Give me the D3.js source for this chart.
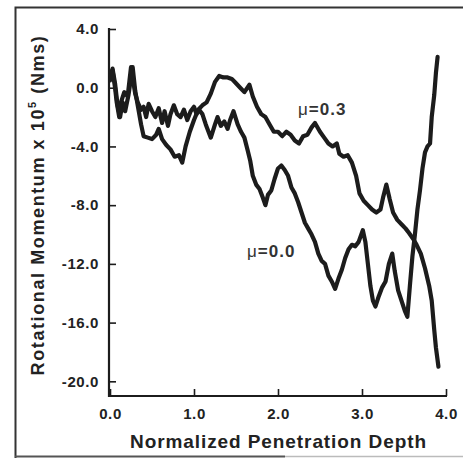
<!DOCTYPE html>
<html>
<head>
<meta charset="utf-8">
<script src="https://cdn.jsdelivr.net/npm/d3@7"></script>
<style>
  body { margin: 0; background: #fff; }
  svg { display: block; font-family: "Liberation Sans", Arial, sans-serif; }
  .tick text { font-size: 15px; font-weight: bold; fill: #222; letter-spacing: 0.6px; }
</style>
</head>
<body>
<svg id="vis" width="463" height="458"></svg>
<script>
// tick values
const xTicks = [0, 1, 2, 3, 4];
const yTicks = [4, 0, -4, -8, -12, -16, -20];

// mu = 0.3 series (depth, momentum)
const depth03 = [0.00, 0.03, 0.06, 0.09, 0.12, 0.15, 0.18, 0.22, 0.27, 0.30, 0.33, 0.37, 0.40, 0.45, 0.50, 0.55, 0.58, 0.62, 0.67, 0.72, 0.77, 0.82, 0.86, 0.90, 0.95, 1.00, 1.05, 1.10, 1.15, 1.20, 1.25, 1.30, 1.35, 1.40, 1.45, 1.50, 1.55, 1.60, 1.66, 1.70, 1.75, 1.80, 1.85, 1.90, 1.95, 2.00, 2.05, 2.10, 2.15, 2.20, 2.25, 2.30, 2.35, 2.40, 2.44, 2.50, 2.55, 2.60, 2.65, 2.70, 2.73, 2.78, 2.83, 2.88, 2.93, 2.97, 3.02, 3.07, 3.12, 3.17, 3.22, 3.25, 3.29, 3.33, 3.37, 3.42, 3.47, 3.52, 3.56, 3.61, 3.65, 3.70, 3.75, 3.80, 3.83, 3.86, 3.88, 3.91];
const moment03 = [0.6, 1.3, 0.3, -1.2, -2.0, -1.0, -1.6, -0.5, 1.4, -0.2, -1.2, -2.5, -3.3, -3.4, -3.5, -3.2, -2.8, -3.5, -3.9, -4.2, -4.7, -4.6, -5.1, -4.0, -3.0, -2.2, -1.5, -1.2, -1.0, -0.4, 0.4, 0.8, 0.7, 0.7, 0.6, 0.3, 0.0, -0.3, 0.2, -0.6, -1.3, -1.8, -2.0, -2.5, -3.0, -3.0, -3.3, -3.0, -3.2, -3.6, -3.8, -3.3, -3.2, -2.7, -2.4, -3.0, -3.4, -3.8, -4.0, -3.8, -4.5, -4.7, -4.6, -5.1, -6.0, -7.2, -7.7, -8.0, -8.3, -8.5, -8.3, -7.5, -6.6, -7.6, -8.5, -9.0, -9.3, -9.6, -9.9, -10.3, -10.7, -11.3, -12.3, -13.5, -14.5, -16.5, -17.7, -19.0];

// mu = 0.0 series (depth, momentum)
const depth00 = [0.00, 0.03, 0.06, 0.08, 0.11, 0.13, 0.17, 0.21, 0.25, 0.30, 0.33, 0.37, 0.40, 0.43, 0.46, 0.50, 0.54, 0.58, 0.62, 0.65, 0.69, 0.72, 0.76, 0.80, 0.84, 0.88, 0.92, 0.96, 1.00, 1.03, 1.06, 1.10, 1.14, 1.20, 1.25, 1.28, 1.32, 1.36, 1.40, 1.43, 1.47, 1.52, 1.56, 1.60, 1.64, 1.67, 1.70, 1.74, 1.78, 1.82, 1.85, 1.88, 1.92, 1.96, 2.00, 2.04, 2.08, 2.12, 2.16, 2.20, 2.24, 2.28, 2.32, 2.36, 2.40, 2.44, 2.48, 2.52, 2.56, 2.60, 2.64, 2.68, 2.72, 2.76, 2.80, 2.84, 2.88, 2.92, 2.96, 3.01, 3.04, 3.07, 3.10, 3.13, 3.16, 3.20, 3.24, 3.28, 3.32, 3.36, 3.39, 3.43, 3.47, 3.51, 3.54, 3.57, 3.60, 3.63, 3.66, 3.69, 3.72, 3.75, 3.78, 3.81, 3.83, 3.86, 3.88, 3.90];
const moment00 = [0.5, 1.2, 0.0, -1.0, -2.0, -1.0, -0.3, -0.6, 1.4, -0.4, -1.0, -1.5, -1.3, -2.0, -1.1, -1.6, -2.0, -1.4, -2.4, -1.6, -2.6, -1.8, -1.2, -1.8, -2.0, -1.5, -2.2, -1.6, -1.3, -1.8, -1.5, -1.8, -2.5, -3.4, -2.5, -2.0, -2.6, -2.3, -2.8, -2.2, -1.6, -2.5, -3.0, -3.4, -4.3, -5.0, -6.0, -6.6, -6.9, -7.5, -8.0, -7.3, -7.0, -6.2, -5.5, -5.3, -5.6, -6.0, -6.8, -7.2, -7.8, -8.5, -9.2, -9.6, -10.0, -10.5, -11.3, -11.8, -12.0, -12.8, -13.2, -13.7, -13.0, -12.4, -11.6, -11.0, -10.7, -10.8, -10.5, -9.7, -10.5, -12.0, -13.5, -14.5, -14.9, -14.2, -13.6, -13.2, -12.0, -11.3, -12.5, -13.8, -14.5, -15.2, -15.6, -13.5, -11.5, -10.0, -8.3, -7.0, -5.5, -4.4, -4.0, -3.8, -2.0, -0.5, 1.0, 2.1];

const svg = d3.select('#vis');
const ink = '#1c1c1c';

const x = d3.scaleLinear().domain([0, 4]).range([110, 446]);
const y = d3.scaleLinear().domain([-21, 4]).range([396, 29]);

// scanned frame
svg.append('path')
  .attr('d', 'M15.5,458 V7.5 H463')
  .attr('fill', 'none').attr('stroke', '#333').attr('stroke-width', 2);
svg.append('line')
  .attr('x1', 15).attr('x2', 285).attr('y1', 456.5).attr('y2', 456.5)
  .attr('stroke', '#555').attr('stroke-width', 2);
svg.append('line')
  .attr('x1', 285).attr('x2', 463).attr('y1', 456.5).attr('y2', 456.5)
  .attr('stroke', '#bbb').attr('stroke-width', 1.5);

// axes
const fmt = d => d.toFixed(1);

const yAxis = svg.append('g')
  .attr('transform', 'translate(109,0)')
  .call(d3.axisLeft(y).tickValues(yTicks).tickFormat(fmt).tickSize(-7).tickPadding(10));
const xAxis = svg.append('g')
  .attr('transform', 'translate(0,396)')
  .call(d3.axisBottom(x).tickValues(xTicks).tickFormat(fmt).tickSize(-7).tickPadding(12));

[yAxis, xAxis].forEach(g => {
  g.select('.domain').remove();
  g.selectAll('.tick line').attr('stroke', ink).attr('stroke-width', 1.6);
});

svg.append('path')
  .attr('d', 'M109,28 V396 H447')
  .attr('fill', 'none').attr('stroke', ink).attr('stroke-width', 2.2);

// curves
const line = d3.line()
  .x(d => x(d[0]))
  .y(d => y(d[1]));

const series = [
  d3.zip(depth03, moment03),
  d3.zip(depth00, moment00)
];

svg.selectAll('path.curve')
  .data(series)
  .enter()
  .append('path')
    .classed('curve', true)
    .attr('d', line)
    .attr('fill', 'none')
    .attr('stroke', ink)
    .attr('stroke-width', 4.2)
    .attr('stroke-linejoin', 'round')
    .attr('stroke-linecap', 'round');

// series labels
const labels = [
  { text: '0.3', x: 298, y: 115 },
  { text: '0.0', x: 247, y: 257 }
];
labels.forEach(l => {
  const t = svg.append('text')
    .attr('x', l.x).attr('y', l.y)
    .attr('font-size', 17).attr('fill', '#333')
    .attr('letter-spacing', 1);
  t.append('tspan').attr('font-weight', 'normal').text('\u03bc');
  t.append('tspan').attr('font-weight', 'bold').text('=' + l.text);
});

// axis titles
svg.append('text')
  .attr('x', 278).attr('y', 448)
  .attr('text-anchor', 'middle')
  .attr('font-size', 19).attr('font-weight', 'bold').attr('fill', '#222')
  .attr('textLength', 296).attr('lengthAdjust', 'spacing')
  .text('Normalized Penetration Depth');

const yTitle = svg.append('text')
  .attr('transform', 'translate(44,205) rotate(-90)')
  .attr('text-anchor', 'middle')
  .attr('font-size', 18).attr('font-weight', 'bold').attr('fill', '#222')
  .attr('letter-spacing', 1.6);
yTitle.append('tspan').text('Rotational Momentum x 10');
yTitle.append('tspan').attr('font-size', 11).attr('dy', -8).text('5');
yTitle.append('tspan').attr('dy', 8).text(' (Nms)');
</script>
</body>
</html>
